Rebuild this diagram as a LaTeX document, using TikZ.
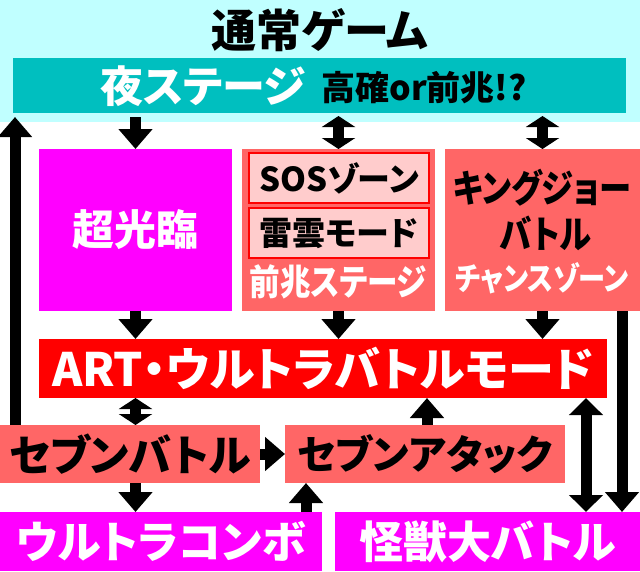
\documentclass[tikz,border=0pt]{standalone}
\usepackage{fontspec}
\setmainfont{Noto Sans CJK JP}[RawFeature=+palt]
\newfontfamily\narrowjp{Noto Sans CJK JP}[RawFeature=+palt, FakeStretch=0.85]
\usetikzlibrary{arrows.meta}
\definecolor{skycyan}{HTML}{C0FFFF}
\definecolor{nightteal}{HTML}{00BFBF}
\definecolor{hotmag}{HTML}{FF00FF}
\definecolor{salmon}{HTML}{FF6666}
\definecolor{palepink}{HTML}{FFCCCC}
\newcommand{\fsz}[1]{\fontsize{#1}{#1}\selectfont\bfseries}
\newcommand{\nfsz}[1]{\narrowjp\fontsize{#1}{#1}\selectfont\bfseries}

\begin{document}
\begin{tikzpicture}[x=1pt, y=-1pt,
  box/.style 2 args={inner sep=0pt, outer sep=0pt, minimum width=#1, minimum height=#2},
  txt/.style={inner sep=0pt, font=\fsz{#1}},
  ntxt/.style={inner sep=0pt, font=\nfsz{#1}},
  arr/.style={line width=11pt, -{Triangle[width=33pt,length=20pt]}},
  darr/.style={line width=11pt, {Triangle[width=33pt,length=#1]}-{Triangle[width=33pt,length=#1]}},
  darr/.default=11pt
]
\useasboundingbox (0,0) rectangle (640,571);
% top: normal game
\node[box={640pt}{122pt}, fill=skycyan, anchor=north west] (normal) at (0,0) {};
\node[txt=45] (title) at (320,30) {通常ゲーム};
\node[box={613pt}{55pt}, fill=nightteal] (yoru) at (319.5,85.5) {};
\node[txt=43, text=white] (yorutxt) at (203,86) {夜ステージ};
\node[txt=34] (kakutxt) at (424,88) {高確or前兆!?};

% middle row
\node[box={193pt}{162pt}, fill=hotmag, text=white, font=\fsz{42}] (chou) at (135.5,230) {超光臨};
\node[box={193pt}{162pt}, fill=salmon] (zencho) at (338.5,230) {};
\node[box={180pt}{50pt}, fill=palepink, draw=red, line width=2pt, font=\fsz{33}] (sos) at (339,178) {SOSゾーン};
\node[box={180pt}{50pt}, fill=palepink, draw=red, line width=2pt, font=\fsz{33}] (raiun) at (339,233) {雷雲モード};
\node[ntxt=36, text=white] (zenchotxt) at (338,282) {前兆ステージ};
\node[box={195pt}{162pt}, fill=salmon] (king) at (542.5,230) {};
\node[ntxt=38] (kingtxt) at (542,188) {キングジョー};
\node[ntxt=38] (battletxt) at (546,233) {バトル};
\node[ntxt=32, text=white] (chancetxt) at (542,278) {チャンスゾーン};

% ART
\node[box={568pt}{59pt}, fill=red, text=white, font=\fsz{46}] (art) at (323,368.5) {ART・ウルトラバトルモード};

% bottom
\node[box={260pt}{58pt}, fill=salmon, font=\fsz{43}] (sevenb) at (130,454) {セブンバトル};
\node[box={280pt}{58pt}, fill=salmon, font=\fsz{40}] (sevena) at (425,454) {セブンアタック};
\node[box={322pt}{59pt}, fill=hotmag, text=white, font=\fsz{44}] (ultra) at (161,541.5) {ウルトラコンボ};
\node[box={305pt}{59pt}, fill=hotmag, text=white, font=\fsz{44}] (kaiju) at (487.5,541.5) {怪獣大バトル};

\coordinate (lft) at (15,0);
\coordinate (rgt) at (622,0);
\coordinate (kx) at (586,0);
\coordinate (ax) at (427,0);
\coordinate (ux) at (306,0);

% connectors
\draw[arr, shorten <=4pt] (yoru.south -| chou.north) -- (chou.north);
\draw[darr, shorten <=3pt] (yoru.south -| zencho.north) -- (zencho.north);
\draw[darr, shorten <=3pt] (yoru.south -| king.north) -- (king.north);
\draw[arr] (chou.south) -- (chou.south |- art.north);
\draw[arr] (zencho.south) -- (zencho.south |- art.north);
\draw[arr] (king.south) -- (king.south |- art.north);
\draw[arr, shorten >=4pt] (sevenb.north -| lft) -- (yoru.south -| lft);
\draw[arr] (king.south -| rgt) -- (kaiju.north -| rgt);
\draw[darr=17pt] (art.south -| kx) -- (kaiju.north -| kx);
\draw[darr] (art.south -| chou.south) -- (sevenb.north -| chou.south);
\draw[arr] (sevenb.south -| chou.south) -- (ultra.north -| chou.south);
\draw[arr] (sevenb.east) -- (sevena.west);
\draw[arr] (sevena.north -| ax) -- (art.south -| ax);
\draw[arr] (ultra.north -| ux) -- (sevena.south -| ux);
\end{tikzpicture}
\end{document}
